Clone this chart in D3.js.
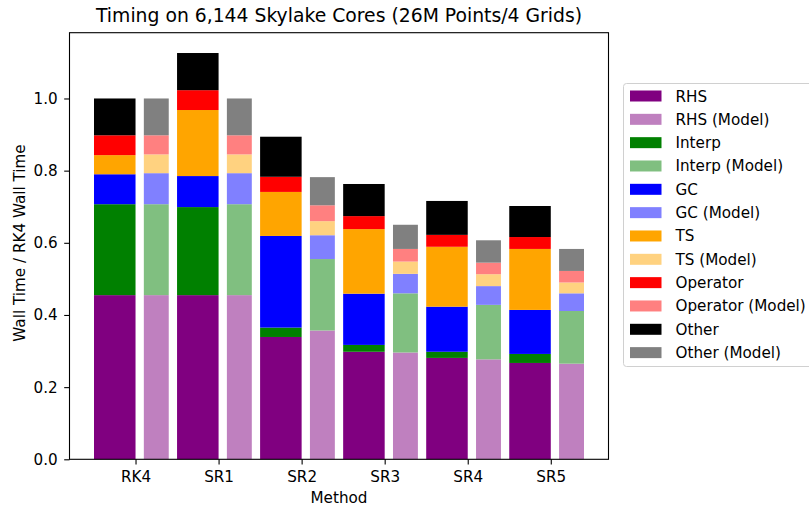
<!DOCTYPE html>
<html>
<head>
<meta charset="utf-8">
<script src="https://cdn.jsdelivr.net/npm/d3@7"></script>
<style>
  html, body { margin: 0; padding: 0; background: #fff; }
  svg { display: block; font-family: "DejaVu Sans", sans-serif; }
</style>
</head>
<body>
<svg id="chart" width="809" height="508"></svg>
<script>
// Methods on the x axis
const methods = ["RK4", "SR1", "SR2", "SR3", "SR4", "SR5"];
const components = ["RHS", "Interp", "GC", "TS", "Operator", "Other"];

// Measured wall time, normalised by the RK4 total
const rhs      = [0.455, 0.455, 0.339, 0.298, 0.281, 0.267];
const interp   = [0.252, 0.244, 0.026, 0.019, 0.017, 0.025];
const gc       = [0.083, 0.086, 0.254, 0.142, 0.125, 0.122];
const ts       = [0.053, 0.183, 0.122, 0.179, 0.166, 0.169];
const operator = [0.055, 0.055, 0.042, 0.036, 0.033, 0.033];
const other    = [0.102, 0.103, 0.111, 0.089, 0.094, 0.086];

// Performance-model prediction, same normalisation
const rhsModel      = [0.455, 0.455, 0.357, 0.296, 0.277, 0.265];
const interpModel   = [0.252, 0.252, 0.198, 0.164, 0.151, 0.146];
const gcModel       = [0.086, 0.086, 0.066, 0.054, 0.052, 0.049];
const tsModel       = [0.052, 0.052, 0.039, 0.034, 0.033, 0.030];
const operatorModel = [0.053, 0.053, 0.044, 0.035, 0.032, 0.032];
const otherModel    = [0.102, 0.102, 0.078, 0.067, 0.062, 0.061];

const yTicks = [0.0, 0.2, 0.4, 0.6, 0.8, 1.0];

const colors      = ["#800080", "#008000", "#0000ff", "#ffa500", "#ff0000", "#000000"];
const modelColors = ["#bf80bf", "#80bf80", "#8080ff", "#ffd280", "#ff8080", "#808080"];

const measured = [rhs, interp, gc, ts, operator, other];
const modelled = [rhsModel, interpModel, gcModel, tsModel, operatorModel, otherModel];

const rows = (series) => methods.map((m, i) => {
  const r = { index: i };
  components.forEach((c, k) => { r[c] = series[k][i]; });
  return r;
});

const stack = d3.stack().keys(components);
const measuredStack = stack(rows(measured));
const modelStack = stack(rows(modelled));

const svg = d3.select("#chart");
const plotLeft = 69.5, plotRight = 608.5, plotTop = 32.7, plotBottom = 459.3;
const fontSize = 15.2;

const totals = methods.map((m, i) => d3.sum(measured, s => s[i]));
const x = d3.scaleLinear().domain([-0.795, 5.695]).range([plotLeft, plotRight]);
const y = d3.scaleLinear().domain([0, d3.max(totals) * 1.05]).range([plotBottom, plotTop]);

// measured bars sit left of the tick, model bars to the right
const g = svg.append("g");
measuredStack.forEach((layer, k) => {
  g.selectAll(null).data(layer).join("rect")
    .attr("x", d => x(d.data.index - 0.5))
    .attr("width", d => x(d.data.index) - x(d.data.index - 0.5))
    .attr("y", d => y(d[1]))
    .attr("height", d => y(d[0]) - y(d[1]))
    .attr("fill", colors[k]);
});
modelStack.forEach((layer, k) => {
  g.selectAll(null).data(layer).join("rect")
    .attr("x", d => x(d.data.index + 0.1))
    .attr("width", d => x(d.data.index + 0.4) - x(d.data.index + 0.1))
    .attr("y", d => y(d[1]))
    .attr("height", d => y(d[0]) - y(d[1]))
    .attr("fill", modelColors[k]);
});

// axes
const xAxis = d3.axisBottom(x)
  .tickValues(methods.map((m, i) => i))
  .tickFormat(i => methods[i])
  .tickSize(5.3).tickPadding(6.5);
const yAxis = d3.axisLeft(y)
  .tickValues(yTicks)
  .tickFormat(d3.format(".1f"))
  .tickSize(5.3).tickPadding(6.5);

const gx = svg.append("g").attr("transform", `translate(0,${plotBottom})`).call(xAxis);
const gy = svg.append("g").attr("transform", `translate(${plotLeft},0)`).call(yAxis);
[gx, gy].forEach(a => {
  a.select(".domain").remove();
  a.selectAll("text").attr("font-size", fontSize).attr("fill", "#000")
    .attr("font-family", "DejaVu Sans");
  a.selectAll("line").attr("stroke", "#000").attr("stroke-width", 1.1);
});

// frame
svg.append("rect")
  .attr("x", plotLeft).attr("y", plotTop)
  .attr("width", plotRight - plotLeft).attr("height", plotBottom - plotTop)
  .attr("fill", "none").attr("stroke", "#000").attr("stroke-width", 1.1);

// title and axis labels
svg.append("text")
  .attr("x", (plotLeft + plotRight) / 2).attr("y", 22)
  .attr("text-anchor", "middle").attr("font-size", 18.8)
  .text("Timing on 6,144 Skylake Cores (26M Points/4 Grids)");
svg.append("text")
  .attr("x", (plotLeft + plotRight) / 2).attr("y", 503.3)
  .attr("text-anchor", "middle").attr("font-size", fontSize)
  .text("Method");
svg.append("text")
  .attr("transform", `translate(25,${(plotTop + plotBottom) / 2 - 3}) rotate(-90)`)
  .attr("text-anchor", "middle").attr("font-size", fontSize)
  .text("Wall Time / RK4 Wall Time");

// legend: measured and model entries interleaved
const legendItems = [];
components.forEach((c, k) => {
  legendItems.push({ label: c, color: colors[k] });
  legendItems.push({ label: c + " (Model)", color: modelColors[k] });
});
const lg = svg.append("g");
lg.append("rect")
  .attr("x", 623.5).attr("y", 83.5)
  .attr("width", 200).attr("height", 283)
  .attr("rx", 3).attr("fill", "#fff")
  .attr("stroke", "#d0d0d0").attr("stroke-width", 1);
const item = lg.selectAll("g.item").data(legendItems).join("g")
  .attr("class", "item")
  .attr("transform", (d, i) => `translate(0,${96 + i * 23.33})`);
item.append("rect")
  .attr("x", 630).attr("y", -5.5).attr("width", 31.5).attr("height", 11)
  .attr("fill", d => d.color);
item.append("text")
  .attr("x", 675.5).attr("y", 5.5)
  .attr("font-size", fontSize)
  .text(d => d.label);
</script>
</body>
</html>
